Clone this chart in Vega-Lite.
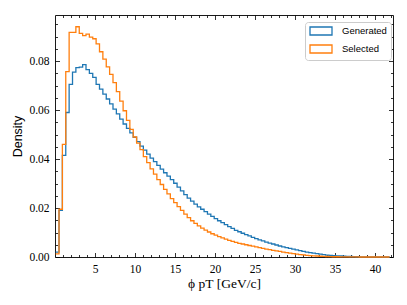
{
"$schema": "https://vega.github.io/schema/vega-lite/v6.json",
"width": 338, "height": 242,
"autosize": "none",
"padding": {"left": 55, "top": 15, "right": 14, "bottom": 48},
"background": "white",
"data": {"values": [
{"x":0.080,"Generated":0.002,"Selected":0.0013},
{"x":0.502,"Generated":0.019,"Selected":0.0195},
{"x":0.923,"Generated":0.0415,"Selected":0.046},
{"x":1.345,"Generated":0.059,"Selected":0.0757},
{"x":1.767,"Generated":0.0705,"Selected":0.0917},
{"x":2.189,"Generated":0.0755,"Selected":0.0917},
{"x":2.610,"Generated":0.0773,"Selected":0.094},
{"x":3.032,"Generated":0.0775,"Selected":0.0913},
{"x":3.454,"Generated":0.0785,"Selected":0.0904},
{"x":3.875,"Generated":0.0765,"Selected":0.091},
{"x":4.297,"Generated":0.075,"Selected":0.0898},
{"x":4.719,"Generated":0.0733,"Selected":0.0891},
{"x":5.140,"Generated":0.0705,"Selected":0.087},
{"x":5.562,"Generated":0.0685,"Selected":0.0838},
{"x":5.984,"Generated":0.0665,"Selected":0.0808},
{"x":6.406,"Generated":0.0645,"Selected":0.0776},
{"x":6.827,"Generated":0.0625,"Selected":0.0746},
{"x":7.249,"Generated":0.0604,"Selected":0.0712},
{"x":7.671,"Generated":0.0584,"Selected":0.0675},
{"x":8.092,"Generated":0.0563,"Selected":0.0636},
{"x":8.514,"Generated":0.0543,"Selected":0.0597},
{"x":8.936,"Generated":0.0525,"Selected":0.0558},
{"x":9.357,"Generated":0.0507,"Selected":0.0521},
{"x":9.779,"Generated":0.0489,"Selected":0.049},
{"x":10.201,"Generated":0.0471,"Selected":0.0465},
{"x":10.623,"Generated":0.0453,"Selected":0.0438},
{"x":11.044,"Generated":0.0436,"Selected":0.041},
{"x":11.466,"Generated":0.042,"Selected":0.0385},
{"x":11.888,"Generated":0.0404,"Selected":0.036},
{"x":12.309,"Generated":0.0389,"Selected":0.0338},
{"x":12.731,"Generated":0.0374,"Selected":0.0316},
{"x":13.153,"Generated":0.0359,"Selected":0.0296},
{"x":13.574,"Generated":0.0344,"Selected":0.0276},
{"x":13.996,"Generated":0.033,"Selected":0.0258},
{"x":14.418,"Generated":0.0316,"Selected":0.0238},
{"x":14.840,"Generated":0.0301,"Selected":0.0222},
{"x":15.261,"Generated":0.0285,"Selected":0.0206},
{"x":15.683,"Generated":0.027,"Selected":0.019},
{"x":16.105,"Generated":0.0255,"Selected":0.0175},
{"x":16.526,"Generated":0.024,"Selected":0.0161},
{"x":16.948,"Generated":0.0228,"Selected":0.0148},
{"x":17.370,"Generated":0.0216,"Selected":0.0137},
{"x":17.791,"Generated":0.0205,"Selected":0.0127},
{"x":18.213,"Generated":0.0195,"Selected":0.0118},
{"x":18.635,"Generated":0.0185,"Selected":0.011},
{"x":19.057,"Generated":0.0175,"Selected":0.0102},
{"x":19.478,"Generated":0.0166,"Selected":0.0095},
{"x":19.900,"Generated":0.0157,"Selected":0.0089},
{"x":20.322,"Generated":0.0148,"Selected":0.0083},
{"x":20.743,"Generated":0.014,"Selected":0.0078},
{"x":21.165,"Generated":0.0132,"Selected":0.0073},
{"x":21.587,"Generated":0.0124,"Selected":0.0068},
{"x":22.008,"Generated":0.0117,"Selected":0.0064},
{"x":22.430,"Generated":0.0109,"Selected":0.006},
{"x":22.852,"Generated":0.0103,"Selected":0.0056},
{"x":23.274,"Generated":0.0097,"Selected":0.0053},
{"x":23.695,"Generated":0.0091,"Selected":0.005},
{"x":24.117,"Generated":0.0086,"Selected":0.0047},
{"x":24.539,"Generated":0.008,"Selected":0.0044},
{"x":24.960,"Generated":0.0075,"Selected":0.0041},
{"x":25.382,"Generated":0.007,"Selected":0.0038},
{"x":25.804,"Generated":0.0066,"Selected":0.0035},
{"x":26.225,"Generated":0.0061,"Selected":0.0032},
{"x":26.647,"Generated":0.0057,"Selected":0.003},
{"x":27.069,"Generated":0.0053,"Selected":0.0027},
{"x":27.491,"Generated":0.0049,"Selected":0.0025},
{"x":27.912,"Generated":0.0045,"Selected":0.0023},
{"x":28.334,"Generated":0.0041,"Selected":0.002},
{"x":28.756,"Generated":0.0038,"Selected":0.0018},
{"x":29.177,"Generated":0.0035,"Selected":0.0016},
{"x":29.599,"Generated":0.0032,"Selected":0.0014},
{"x":30.021,"Generated":0.0029,"Selected":0.0012},
{"x":30.442,"Generated":0.0026,"Selected":0.001},
{"x":30.864,"Generated":0.0023,"Selected":0.0009},
{"x":31.286,"Generated":0.002,"Selected":0.0007},
{"x":31.708,"Generated":0.0018,"Selected":0.0006},
{"x":32.129,"Generated":0.0016,"Selected":0.0005},
{"x":32.551,"Generated":0.0014,"Selected":0.0004},
{"x":32.973,"Generated":0.0012,"Selected":0.0003},
{"x":33.394,"Generated":0.001,"Selected":0.00025},
{"x":33.816,"Generated":0.0008,"Selected":0.0002},
{"x":34.238,"Generated":0.0007,"Selected":0.00015},
{"x":34.659,"Generated":0.0006,"Selected":0.0001},
{"x":35.081,"Generated":0.0005,"Selected":0.0001},
{"x":35.503,"Generated":0.0004,"Selected":0.00007},
{"x":35.925,"Generated":0.0003,"Selected":0.00005},
{"x":36.346,"Generated":0.00025,"Selected":0.00004},
{"x":36.768,"Generated":0.0002,"Selected":0.00003},
{"x":37.190,"Generated":0.00015,"Selected":0.00002},
{"x":37.611,"Generated":0.0001,"Selected":0.00002},
{"x":38.033,"Generated":0.00008,"Selected":0.00001},
{"x":38.455,"Generated":0.00006,"Selected":0.00001},
{"x":38.876,"Generated":0.00005,"Selected":0.00001},
{"x":39.298,"Generated":0.00004,"Selected":0},
{"x":39.720,"Generated":0.00003,"Selected":0},
{"x":40.142,"Generated":0.00002,"Selected":0},
{"x":40.563,"Generated":0.00002,"Selected":0},
{"x":40.985,"Generated":0.00001,"Selected":0},
{"x":41.407,"Generated":0.00001,"Selected":0},
{"x":41.828,"Generated":0.00001,"Selected":0}
]},
"transform": [{"fold": ["Generated","Selected"], "as": ["series","density"]}],
"layer": [
 {
  "mark": {"type": "line", "interpolate": "step-after", "strokeWidth": 1.3},
  "encoding": {
   "x": {"field": "x", "type": "quantitative",
     "scale": {"domain": [0, 42.25], "nice": false, "zero": false},
     "axis": {"orient": "bottom",
       "values": [1,2,3,4,5,6,7,8,9,10,11,12,13,14,15,16,17,18,19,20,21,22,23,24,25,26,27,28,29,30,31,32,33,34,35,36,37,38,39,40,41,42],
       "format": "d",
       "labelExpr": "datum.value % 5 === 0 ? datum.label : ''",
       "tickSize": {"condition": {"test": "datum.value % 5 === 0", "value": -4.5}, "value": -2.5},
       "labelPadding": 10.5,
       "title": "ϕ pT [GeV/c]", "titleFont": "Liberation Serif", "titleFontSize": 13.5, "titlePadding": 0}},
   "y": {"field": "density", "type": "quantitative",
     "scale": {"domain": [0, 0.0988], "nice": false},
     "axis": {"orient": "left",
       "values": [0,0.005,0.01,0.015,0.02,0.025,0.03,0.035,0.04,0.045,0.05,0.055,0.06,0.065,0.07,0.075,0.08,0.085,0.09,0.095],
       "format": ".2f",
       "labelExpr": "abs(datum.value*50 - round(datum.value*50)) < 0.001 ? datum.label : ''",
       "tickSize": {"condition": {"test": "abs(datum.value*50 - round(datum.value*50)) < 0.001", "value": -4.5}, "value": -2.5},
       "labelPadding": 10.5,
       "title": "Density", "titleFont": "Liberation Sans", "titleFontSize": 12.5, "titlePadding": 4}},
   "color": {"field": "series", "type": "nominal",
     "scale": {"domain": ["Generated","Selected"], "range": ["#1f77b4","#ff7f0e"]},
     "legend": {"orient": "none", "legendX": 250, "legendY": 7, "title": null,
       "symbolType": "M-2.75,-1H2.75V1H-2.75Z", "symbolSize": 64, "symbolStrokeWidth": 1.3,
       "symbolFillColor": "transparent", "symbolOffset": 7,
       "labelFont": "Liberation Sans", "labelFontSize": 9.5, "labelColor": "black", "labelOffset": 16,
       "fillColor": "white", "strokeColor": "#cccccc", "cornerRadius": 3, "padding": 4, "rowPadding": 4}}
  }
 },
 {
  "mark": {"type": "line", "opacity": 0},
  "encoding": {
   "x": {"field": "x", "type": "quantitative",
     "scale": {"domain": [0, 42.25], "nice": false, "zero": false},
     "axis": {"orient": "top", "labels": false, "title": null,
       "values": [1,2,3,4,5,6,7,8,9,10,11,12,13,14,15,16,17,18,19,20,21,22,23,24,25,26,27,28,29,30,31,32,33,34,35,36,37,38,39,40,41,42],
       "tickSize": {"condition": {"test": "datum.value % 5 === 0", "value": -4.5}, "value": -2.5}}},
   "y": {"field": "density", "type": "quantitative",
     "scale": {"domain": [0, 0.0988], "nice": false},
     "axis": {"orient": "right", "labels": false, "title": null,
       "values": [0,0.005,0.01,0.015,0.02,0.025,0.03,0.035,0.04,0.045,0.05,0.055,0.06,0.065,0.07,0.075,0.08,0.085,0.09,0.095],
       "tickSize": {"condition": {"test": "abs(datum.value*50 - round(datum.value*50)) < 0.001", "value": -4.5}, "value": -2.5}}},
   "detail": {"field": "series", "type": "nominal"}
  }
 }
],
"resolve": {"axis": {"x": "independent", "y": "independent"}},
"config": {
 "view": {"stroke": null},
 "axis": {"grid": false, "domainColor": "black", "domainWidth": 0.9, "tickColor": "black", "tickWidth": 0.8,
   "labelFont": "Liberation Serif", "labelFontSize": 11.5, "labelColor": "black",
   "labelFlush": false, "labelOverlap": false, "titleColor": "black", "titleFontWeight": "normal"}
}
}
